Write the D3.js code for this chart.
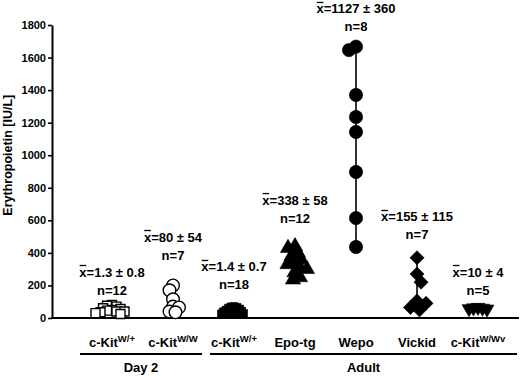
<!DOCTYPE html>
<html><head><meta charset="utf-8">
<script src="https://cdn.jsdelivr.net/npm/d3@7"></script>
<style>
body{margin:0;background:#fff}
svg text{font-family:"Liberation Sans",Arial,Helvetica,sans-serif;font-weight:bold;fill:#000}
</style>
</head><body>
<svg id="chart" width="520" height="376"></svg>
<script>
// ---- data ----
const categories = ["d2_W+", "d2_W/W", "ad_W+", "Epo-tg", "Wepo", "Vickid", "ad_W/Wv"];
const catMain = ["c-Kit", "c-Kit", "c-Kit", "Epo-tg", "Wepo", "Vickid", "c-Kit"];
const catSup  = ["W/+", "W/W", "W/+", "", "", "", "W/Wv"];
const day2WPlus  = [80, 75, 70, 60, 55, 50, 45, 40, 40, 35, 30, 25];
const day2WW     = [200, 170, 115, 70, 65, 40, 35];
const adultWPlus = [70, 68, 65, 60, 55, 52, 50, 48, 45, 42, 40, 38, 35, 32, 30, 30, 28, 25];
const epoTg      = [440, 430, 400, 380, 360, 340, 330, 310, 300, 280, 250, 236];
const wepo       = [1667, 1646, 1370, 1235, 1143, 897, 614, 436];
const vickid     = [370, 270, 220, 105, 90, 65, 50];
const adultWWv   = [65, 62, 60, 57, 55];
const meanLabels = ["1.3 ± 0.8", "80 ± 54", "1.4 ± 0.7", "338 ± 58", "1127 ± 360", "155 ± 115", "10 ± 4"];
const nLabels    = [12, 7, 18, 12, 8, 7, 5];
const labelAt    = [172, 387, 203, 614, 1788, 510, 172];   // label anchor, IU/L
const rangeLine  = [false, false, false, false, true, true, false];
const yTicks     = [0, 200, 400, 600, 800, 1000, 1200, 1400, 1600, 1800];
const groupNames = ["Day 2", "Adult"];

const series = [day2WPlus, day2WW, adultWPlus, epoTg, wepo, vickid, adultWWv];

// ---- styles ----
const markers = [
  {type: d3.symbolSquare,   size: 81,  fill: "#fff", rot: 0,   t: 4.6},
  {type: d3.symbolCircle,   size: 125, fill: "#fff", rot: 0,   t: 6},
  {type: d3.symbolSquare,   size: 64,  fill: "#000", rot: 0,   t: 2.8},
  {type: d3.symbolTriangle, size: 100, fill: "#000", rot: 0,   t: 7},
  {type: d3.symbolCircle,   size: 140, fill: "#000", rot: 0,   t: 7.5},
  {type: d3.symbolSquare,   size: 100, fill: "#000", rot: 45,  t: 9},
  {type: d3.symbolTriangle, size: 85,  fill: "#000", rot: 180, t: 4.4}
];

const svg = d3.select("#chart");
const y = d3.scaleLinear().domain([0, 1800]).range([318, 25]);
const x = d3.scalePoint().domain(categories).range([112, 478]);
const axisX0 = 52;

// swarm layout: horizontal offsets so markers don't fully overlap
function swarm(vals, t) {
  const placed = [];
  const order = vals.map((v, i) => i).sort((a, b) => vals[b] - vals[a]);
  const out = new Array(vals.length);
  order.forEach((i, k) => {
    const py = y(vals[i]);
    const ok = dx => placed.every(p => Math.hypot(p.x - dx, p.y - py) >= t);
    let found = 0;
    for (let s = 0; s < 200; s++) {
      const d = s * 0.5;
      const a = (k % 2 === 0) ? d : -d, b = -a;
      if (ok(a)) { found = a; break; }
      if (ok(b)) { found = b; break; }
    }
    placed.push({x: found, y: py});
    out[i] = found;
  });
  return out;
}

// y axis
const yAxis = d3.axisLeft(y).tickValues(yTicks).tickFormat(d3.format("d"))
  .tickSize(4).tickSizeOuter(0).tickPadding(2);
const gy = svg.append("g").attr("transform", `translate(${axisX0},0)`).call(yAxis);
gy.select(".domain").attr("stroke", "#000").attr("stroke-width", 2);
gy.selectAll(".tick line").attr("stroke", "#000").attr("stroke-width", 1.6);
gy.selectAll(".tick text").style("font-size", "11px").style("font-family", "'Liberation Sans',Arial,sans-serif").style("font-weight", "bold");

// x axis line
svg.append("line").attr("x1", axisX0 - 1).attr("x2", 519).attr("y1", y(0)).attr("y2", y(0))
  .attr("stroke", "#000").attr("stroke-width", 2);

// y title
svg.append("text").attr("transform", `translate(12,${y(1000)}) rotate(-90)`)
  .attr("text-anchor", "middle").style("font-size", "12.5px").text("Erythropoietin [IU/L]");

// range lines
series.forEach((vals, i) => {
  if (!rangeLine[i]) return;
  svg.append("line").attr("x1", x(categories[i])).attr("x2", x(categories[i]))
    .attr("y1", y(d3.max(vals))).attr("y2", y(d3.min(vals)))
    .attr("stroke", "#000").attr("stroke-width", 1.6);
});

// markers
series.forEach((vals, i) => {
  const m = markers[i];
  const off = swarm(vals, m.t);
  const sym = d3.symbol().type(m.type).size(m.size);
  svg.append("g").selectAll("path").data(vals).join("path")
    .attr("d", sym)
    .attr("transform", (d, j) => `translate(${x(categories[i]) + off[j]},${y(d)}) rotate(${m.rot})`)
    .attr("fill", m.fill).attr("stroke", "#000").attr("stroke-width", m.fill === "#fff" ? 1.4 : 0.6);
});

// annotations
categories.forEach((c, i) => {
  const ny = y(labelAt[i]);
  const my = ny - 18;
  const t1 = svg.append("text").attr("x", x(c)).attr("y", my + 4.5)
    .attr("text-anchor", "middle").style("font-size", "13px")
    .text("x=" + meanLabels[i]);
  const ext = t1.node().getExtentOfChar(0);
  svg.append("line").attr("x1", ext.x + 0.3).attr("x2", ext.x + ext.width - 0.3)
    .attr("y1", my + 4.5 - 11).attr("y2", my + 4.5 - 11)
    .attr("stroke", "#000").attr("stroke-width", 1.3);
  svg.append("text").attr("x", x(c)).attr("y", ny + 4.5)
    .attr("text-anchor", "middle").style("font-size", "13px").text("n=" + nLabels[i]);
});

// category labels
categories.forEach((c, i) => {
  const t = svg.append("text").attr("x", x(c)).attr("y", 347).attr("text-anchor", "middle")
    .style("font-size", "13px");
  t.append("tspan").text(catMain[i]);
  if (catSup[i]) t.append("tspan").attr("dy", -5).style("font-size", "9.5px").text(catSup[i]);
});

// group labels
const groupExtent = [[80, 202], [210, 517]];
groupNames.forEach((g, i) => {
  const [a, b] = groupExtent[i];
  svg.append("line").attr("x1", a).attr("x2", b).attr("y1", 354).attr("y2", 354)
    .attr("stroke", "#000").attr("stroke-width", 2);
  svg.append("text").attr("x", (a + b) / 2).attr("y", 372).attr("text-anchor", "middle")
    .style("font-size", "13px").text(g);
});
</script>
</body></html>
